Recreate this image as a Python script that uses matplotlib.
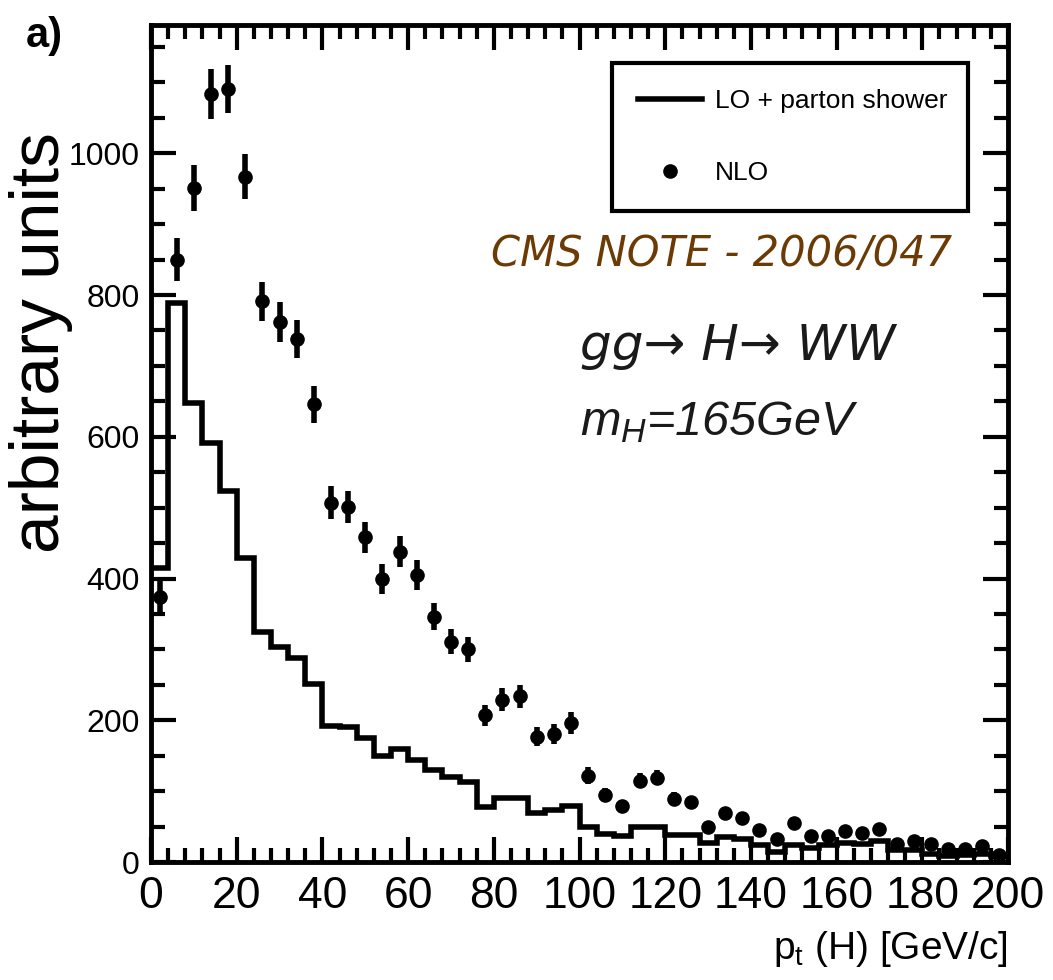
import numpy as np
import matplotlib
matplotlib.use('Agg')
import matplotlib.pyplot as plt
from matplotlib.ticker import MultipleLocator
from matplotlib.lines import Line2D

plt.rcParams['font.family'] = ['Liberation Sans', 'DejaVu Sans']
plt.rcParams['mathtext.fontset'] = 'custom'
plt.rcParams['mathtext.rm'] = 'Liberation Sans'
plt.rcParams['mathtext.it'] = 'Liberation Sans:italic'

# LO + parton shower histogram, 4 GeV bins from 0 to 200
bin_edges = np.arange(0, 201, 4)
lo_counts = [415, 789, 647, 591, 523, 429, 325, 304, 288, 251,
             192, 190, 175, 150, 160, 144, 130, 120, 113, 78,
             91, 91, 69, 74, 79, 50, 40, 36, 49, 49,
             38, 38, 27, 35, 32, 24, 14, 24, 20, 24,
             27, 26, 29, 17, 17, 12, 8, 10, 12, 8]

# NLO points (bin centres)
nlo_pt = [2, 6, 10, 14, 18, 22, 26, 30, 34, 38,
          42, 46, 50, 54, 58, 62, 66, 70, 74, 78,
          82, 86, 90, 94, 98, 102, 106, 110, 114, 118,
          122, 126, 130, 134, 138, 142, 146, 150, 154, 158,
          162, 166, 170, 174, 178, 182, 186, 190, 194, 198]
nlo_val = [374, 850, 951, 1084, 1091, 967, 791, 762, 738, 646,
           507, 501, 458, 399, 438, 405, 346, 311, 300, 207,
           229, 234, 177, 181, 196, 122, 95, 79, 115, 119,
           89, 84, 50, 69, 62, 45, 32, 55, 37, 37,
           44, 41, 47, 26, 30, 26, 18, 19, 22, 10]
nlo_err = [25, 30, 32, 35, 34, 32, 28, 28, 27, 26,
           23, 23, 22, 21, 22, 21, 19, 18, 18, 15,
           16, 16, 14, 14, 15, 12, 10, 9, 11, 11,
           10, 9, 7, 8, 8, 7, 6, 7, 6, 6,
           7, 6, 7, 5, 5, 5, 4, 4, 5, 3]

fig = plt.figure(figsize=(10.53, 9.8), dpi=100)
ax = fig.add_axes([0.1434, 0.1204, 0.8139, 0.8541])

ax.stairs(lo_counts, bin_edges, color='black', linewidth=4, baseline=None)
ax.errorbar(nlo_pt, nlo_val, yerr=nlo_err, fmt='o', color='black', ms=9.5,
            elinewidth=4, capsize=0)

ax.set_xlim(0, 200)
ax.set_ylim(0, 1181)
ax.xaxis.set_major_locator(MultipleLocator(20))
ax.xaxis.set_minor_locator(MultipleLocator(4))
ax.yaxis.set_major_locator(MultipleLocator(200))
ax.yaxis.set_minor_locator(MultipleLocator(50))
ax.tick_params(which='both', direction='in', top=True, right=True, width=3)
ax.tick_params(which='major', length=18)
ax.tick_params(which='minor', length=10)
ax.tick_params(axis='x', labelsize=32, pad=10)
ax.tick_params(axis='y', labelsize=23, pad=8)
for s in ax.spines.values():
    s.set_linewidth(3.5)

ax.set_xlabel(r'p$_\mathrm{t}$ (H) [GeV/c]', fontsize=28, loc='right',
              labelpad=9)
ax.set_ylabel('arbitrary units', fontsize=50)
ax.yaxis.set_label_coords(-0.091, 0.621)

handles = [Line2D([], [], color='black', linewidth=4),
           Line2D([], [], color='black', marker='o', linestyle='none', ms=9.5)]
leg = ax.legend(handles, ['LO + parton shower', 'NLO'], loc='upper left',
                bbox_to_anchor=(0.538, 0.779, 0.415, 0.1756),
                mode='expand', borderaxespad=0, fontsize=19, frameon=True,
                fancybox=False, edgecolor='black', handlelength=2.4,
                handletextpad=0.5, labelspacing=1.8, borderpad=1.0,
                framealpha=1)
leg.get_frame().set_linewidth(3)

ax.text(0.935, 0.712, 'CMS NOTE - 2006/047', transform=ax.transAxes,
        fontsize=30, color='#6b3a05', style='italic', ha='right',
        family='DejaVu Sans')
ax.text(0.5, 0.6, 'gg→ H→ WW', transform=ax.transAxes, fontsize=36,
        style='italic', color='#1a1a1a', family='DejaVu Sans')
ax.text(0.5, 0.51, r'$m_{H}$=165GeV', transform=ax.transAxes, fontsize=35,
        style='italic', color='#1a1a1a')

fig.text(0.024, 0.952, 'a)', fontsize=30, fontweight='bold')

fig.savefig('out.png', dpi=100)
